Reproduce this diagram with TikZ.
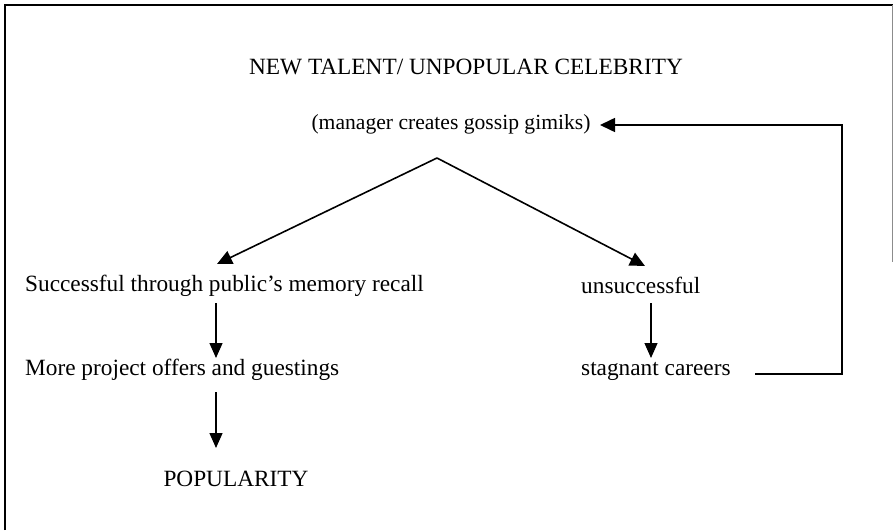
\documentclass[tikz,border=0pt]{standalone}
\usepackage{fontspec}
\setmainfont{Liberation Serif}
\usetikzlibrary{arrows.meta}
\tikzset{
  txt/.style={inner sep=0pt, font=\fontsize{23.3}{27}\selectfont},
  smalltxt/.style={inner sep=0pt, font=\fontsize{21.6}{25}\selectfont},
  conn/.style={line width=1.6pt, -{Triangle[width=14pt,length=15pt]}},
  thin/.style={line width=1.3pt, -{Triangle[width=13pt,length=15pt]}}
}
\begin{document}
\begin{tikzpicture}[x=1pt,y=-1pt]
\useasboundingbox (0,0) rectangle (894,530);
% frame
\draw[line width=1.3pt] (5,530) -- (5,5) -- (893,5);
\draw[line width=0.8pt, black!45] (892,5) -- (892,262);
% nodes
\node[txt] (title) at (466,67) {NEW TALENT/ UNPOPULAR CELEBRITY};
\node[smalltxt] (mgr) at (451,124) {(manager creates gossip gimiks)};
\node[txt, anchor=west] (succ) at (25,286) {Successful through public's memory recall};
\node[txt, anchor=west] (more) at (25,370) {More project offers and guestings};
\node[txt] (pop) at (236,479) {POPULARITY};
\node[txt, anchor=west] (unsucc) at (581,285) {unsuccessful};
\node[txt, anchor=west] (stag) at (581,371) {stagnant careers};
% helper coordinates
\coordinate (apex) at (437,158);
\coordinate (ltip) at (217,264);
\coordinate (rtip) at (645,266);
\coordinate (s1) at (216,303);
\coordinate (e1) at (216,358);
\coordinate (s2) at (216,392);
\coordinate (e2) at (216,448);
\coordinate (s3) at (651,303);
\coordinate (e3) at (651,358);
\coordinate (fbs) at (755,374);
\coordinate (fbc) at (842,374);
\coordinate (fbt) at (842,125);
\coordinate (fbe) at (600,125);
% connectors
\draw[conn] (apex) -- (ltip);
\draw[conn] (apex) -- (rtip);
\draw[thin] (s1) -- (e1);
\draw[thin] (s2) -- (e2);
\draw[thin] (s3) -- (e3);
\draw[conn] (fbs) -- (fbc) -- (fbt) -- (fbe);
\end{tikzpicture}
\end{document}
